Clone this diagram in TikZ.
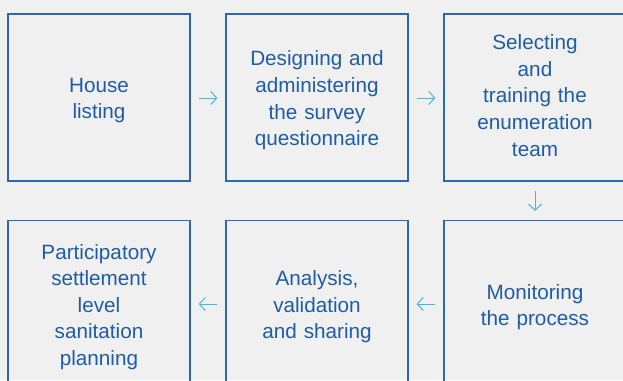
\documentclass[tikz,border=0pt]{standalone}
\usepackage{fontspec}
\setmainfont{Liberation Sans}
\usetikzlibrary{arrows.meta}
\definecolor{bg}{HTML}{F0F0F0}
\definecolor{boxc}{HTML}{2A69B2}
\definecolor{txtc}{HTML}{1E5DA6}
\definecolor{arr}{HTML}{3DB8EA}
\begin{document}
\begin{tikzpicture}[x=1pt,y=-1pt,
  stepbox/.style={draw=boxc,line width=1.2pt,minimum width=182pt,minimum height=167pt,inner sep=0pt},
  steptext/.style={inner sep=0pt,align=center,text=txtc,font=\fontsize{20.7}{26.6}\selectfont,text width=180pt},
  flow/.style={draw=arr,line width=1pt,-{Straight Barb[length=6pt,width=13pt,line width=1pt]}}]
\fill[bg] (0,0) rectangle (623,380);
\useasboundingbox (0,0) rectangle (623,380);
\node[stepbox] (a) at (99,97.5) {};
\node[stepbox] (b) at (317,97.5) {};
\node[stepbox] (c) at (535,97.5) {};
\node[stepbox] (d) at (535,304) {};
\node[stepbox] (e) at (317,304) {};
\node[stepbox] (f) at (99,304) {};
\node[steptext] (at) at ([yshift=-3pt]a.center) {House\\listing};
\node[steptext] (bt) at ([yshift=-3pt]b.center) {Designing and\\administering\\the survey\\questionnaire};
\node[steptext] (ct) at ([yshift=2pt]c.center) {Selecting\\and\\training the\\enumeration\\team};
\node[steptext] (dt) at ([yshift=-3pt]d.center) {Monitoring\\the process};
\node[steptext] (et) at ([yshift=-3pt]e.center) {Analysis,\\validation\\and sharing};
\node[steptext] (ft) at ([yshift=-3pt]f.center) {Participatory\\settlement\\level\\sanitation\\planning};
\draw[flow] ([xshift=8pt]a.east|-0,98) -- ([xshift=-8pt]b.west|-0,98);
\draw[flow] ([xshift=8pt]b.east|-0,98) -- ([xshift=-8pt]c.west|-0,98);
\draw[flow] ([yshift=-9pt]c.south) -- ([yshift=9pt]d.north);
\draw[flow] ([xshift=-8pt]d.west) -- ([xshift=8pt]e.east);
\draw[flow] ([xshift=-8pt]e.west) -- ([xshift=8pt]f.east);
\end{tikzpicture}
\end{document}
